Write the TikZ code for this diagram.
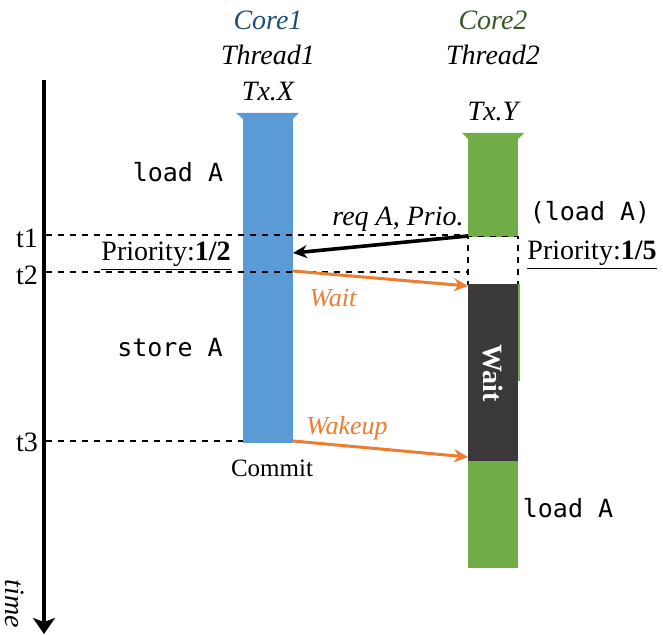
\documentclass[tikz,border=0pt]{standalone}
\usepackage{fontspec}
\setmainfont{Liberation Serif}
\setmonofont{DejaVu Sans Mono}
\usetikzlibrary{positioning, arrows.meta}
\definecolor{coreblue}{RGB}{91, 155, 213}
\definecolor{coregreen}{RGB}{112, 173, 71}
\definecolor{waitgray}{RGB}{58, 56, 56}
\definecolor{msgorange}{RGB}{237, 125, 49}
\definecolor{titleblue}{RGB}{31, 78, 121}
\definecolor{titlegreen}{RGB}{56, 87, 35}

\begin{document}
\begin{tikzpicture}[x=0.5pt, y=-0.5pt,
    every node/.style={align=center, inner sep=0pt, font=\fontsize{14}{16}\selectfont},
    op/.style={font=\ttfamily\fontsize{12.5}{15}\selectfont},
    tline/.style={dashed, line width=0.7pt},
    msg/.style={-{Stealth[length=7pt, width=6.5pt]}, line width=1.5pt},
    bar/.style={minimum width=25pt, anchor=north}]
    \useasboundingbox (0,0) rectangle (663,635);

    % time axis
    \coordinate (axtop) at (44,80);
    \coordinate (axend) at (44,634);
    \draw[line width=2pt, -{Stealth[length=8pt, width=11pt, inset=2pt]}] (axtop) -- (axend);
    \node[rotate=-90, font=\itshape\fontsize{14}{16}\selectfont] (time) at (15,604) {time};

    % thread bars
    \node[bar, fill=coreblue, minimum height=164pt] (tx1) at (268,115) {};
    \fill[coreblue] (236,113) -- (299,113) -- (293,119) -- (243,119) -- cycle;
    \node[bar, fill=coregreen, minimum height=216.5pt] (tx2) at (493,135) {};
    \fill[coregreen] (462,133) -- (524,133) -- (518,139) -- (468,139) -- cycle;
    \node[bar, fill=white, draw, dashed, line width=0.7pt, minimum height=24pt] (gap) at (493,236) {};
    \node[bar, fill=waitgray, minimum height=88.5pt] (wait) at (493,284) {};
    \fill[coregreen] (518,284) rectangle (520,381);
    \node[rotate=-90, text=white, font=\bfseries\fontsize{14}{16}\selectfont] (waitlbl) at (wait.center) {Wait};

    % headings
    \node[text=titleblue, font=\itshape\fontsize{14}{16}\selectfont] (core1) at (268,20) {Core1};
    \node[font=\itshape\fontsize{14}{16}\selectfont] (thr1) at (268,55) {Thread1};
    \node[font=\itshape\fontsize{14}{16}\selectfont] (txx) at (268,92) {Tx.X};
    \node[text=titlegreen, font=\itshape\fontsize{14}{16}\selectfont] (core2) at (493,20) {Core2};
    \node[font=\itshape\fontsize{14}{16}\selectfont] (thr2) at (493,55) {Thread2};
    \node[font=\itshape\fontsize{14}{16}\selectfont] (txy) at (493,112) {Tx.Y};

    % time levels
    \coordinate (t1) at (46,235);
    \coordinate (t2) at (46,272);
    \coordinate (t3) at (46,441);
    \draw[tline] (t1) -- (t1 -| gap.west);
    \draw[tline] (t2) -- (t2 -| gap.west);
    \draw[tline] (t3) -- (t3 -| tx1.west);
    \node (t1lbl) at (27,238) {t1};
    \node (t2lbl) at (27,275) {t2};
    \node (t3lbl) at (27,442) {t3};

    % operations
    \node[op] (ld1) at (178,172) {load A};
    \node[op] (st1) at (170,348) {store A};
    \node (pr1) at (166,256) {\underline{Priority:\textbf{1/2}}};
    \node[font=\fontsize{12.5}{15}\selectfont] (commit) at (272,468) {Commit};
    \node[op] (ld2) at (590,213) {(load A)};
    \node (pr2) at (592,255) {\underline{Priority:\textbf{1/5}}};
    \node[op] (ld3) at (568,508) {load A};

    % messages
    \coordinate (reqfrom) at (468,236);
    \coordinate (reqto) at (293,253);
    \coordinate (waitfrom) at (293,271);
    \coordinate (waitto) at (468,286);
    \coordinate (wakefrom) at (293,441);
    \coordinate (waketo) at (468,457);
    \draw[msg, line width=1.8pt] (reqfrom) -- (reqto);
    \draw[msg, msgorange] (waitfrom) -- (waitto);
    \draw[msg, msgorange] (wakefrom) -- (waketo);
    \node[font=\itshape\fontsize{14}{16}\selectfont] (reqlbl) at (398,219) {req A, Prio.};
    \node[text=msgorange, font=\itshape\fontsize{13}{16}\selectfont] (waitmsg) at (333,298) {Wait};
    \node[text=msgorange, font=\itshape\fontsize{13}{16}\selectfont] (wakelbl) at (347,428) {Wakeup};
\end{tikzpicture}
\end{document}
